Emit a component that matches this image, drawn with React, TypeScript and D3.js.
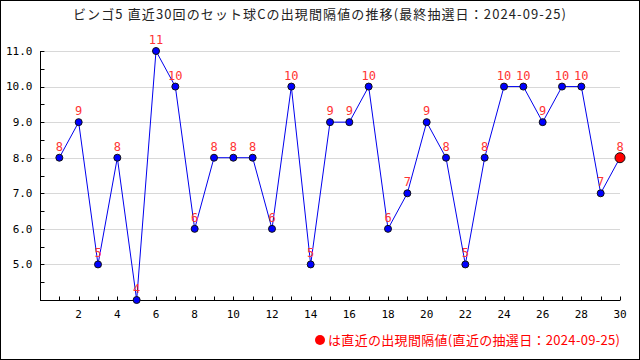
import * as d3 from "d3";
import React, { useRef, useEffect } from "react";

const draws = d3.range(1, 31);
const intervals = [8, 9, 5, 8, 4, 11, 10, 6, 8, 8, 8, 6, 10, 5, 9, 9, 10, 6, 7, 9, 8, 5, 8, 10, 10, 9, 10, 10, 7, 8];
const yTicks = [5, 6, 7, 8, 9, 10, 11];
const xLabels = [2, 4, 6, 8, 10, 12, 14, 16, 18, 20, 22, 24, 26, 28, 30];

const title = "ビンゴ5 直近30回のセット球Cの出現間隔値の推移(最終抽選日：2024-09-25)";
const note = "は直近の出現間隔値(直近の抽選日：2024-09-25)";

const width = 640;
const height = 360;
const margin = { top: 51, right: 20, bottom: 60, left: 40 };
const font = "'DejaVu Sans Mono', 'Noto Sans CJK JP', monospace";
const jpFont = "'Noto Sans CJK JP', 'DejaVu Sans', sans-serif";

function Chart() {
  const ref = useRef(null);

  useEffect(() => {
    const svg = d3.select(ref.current);
    svg.selectAll("*").remove();

    const x = d3.scaleLinear().domain([0, 30]).range([margin.left, width - margin.right]);
    const y = d3.scaleLinear().domain([4, 11]).range([height - margin.bottom, margin.top]);

    svg
      .append("rect")
      .attr("x", 0.5)
      .attr("y", 0.5)
      .attr("width", width - 1)
      .attr("height", height - 1)
      .attr("fill", "white")
      .attr("stroke", "black");

    svg
      .append("text")
      .attr("x", 73)
      .attr("y", 19)
      .attr("textLength", 493)
      .attr("lengthAdjust", "spacing")
      .style("font-family", jpFont)
      .style("font-size", "13px")
      .attr("fill", "#222")
      .text(title);

    // grid
    svg
      .append("g")
      .selectAll("line")
      .data(yTicks)
      .join("line")
      .attr("x1", margin.left + 5)
      .attr("x2", width - margin.right)
      .attr("y1", (d) => Math.round(y(d)) + 0.5)
      .attr("y2", (d) => Math.round(y(d)) + 0.5)
      .attr("stroke", "#d8d8d8");

    // y axis
    const yAxis = svg.append("g").attr("transform", `translate(${margin.left + 0.5},0)`);
    yAxis
      .append("line")
      .attr("y1", y(11))
      .attr("y2", y(4))
      .attr("stroke", "black");
    yAxis
      .selectAll(".minor")
      .data(d3.range(4.5, 11.01, 0.5))
      .join("line")
      .attr("x2", 4)
      .attr("y1", (d) => Math.round(y(d)) + 0.5)
      .attr("y2", (d) => Math.round(y(d)) + 0.5)
      .attr("stroke", "black");
    yAxis
      .selectAll("text")
      .data(yTicks)
      .join("text")
      .attr("x", -8)
      .attr("y", (d) => y(d))
      .attr("dy", "0.35em")
      .attr("text-anchor", "end")
      .style("font-family", font)
      .style("font-size", "11px")
      .attr("fill", "black")
      .text((d) => d3.format(".1f")(d));

    // x axis
    const xAxis = svg.append("g").attr("transform", `translate(0,${height - margin.bottom + 0.5})`);
    xAxis
      .append("line")
      .attr("x1", margin.left)
      .attr("x2", width - margin.right)
      .attr("stroke", "black");
    xAxis
      .selectAll(".tick")
      .data(draws)
      .join("line")
      .attr("x1", (d) => Math.round(x(d)) + 0.5)
      .attr("x2", (d) => Math.round(x(d)) + 0.5)
      .attr("y2", -4)
      .attr("stroke", "black");
    xAxis
      .selectAll("text")
      .data(xLabels)
      .join("text")
      .attr("x", (d) => x(d))
      .attr("y", 17)
      .attr("text-anchor", "middle")
      .style("font-family", font)
      .style("font-size", "11px")
      .attr("fill", "black")
      .text((d) => d);

    const line = d3
      .line<number>()
      .x((d, i) => x(draws[i]))
      .y((d) => y(d));

    svg
      .append("path")
      .datum(intervals)
      .attr("fill", "none")
      .attr("stroke", "#0000ee")
      .attr("stroke-width", 1)
      .attr("d", line);

    const last = intervals.length - 1;
    svg
      .append("g")
      .selectAll("circle")
      .data(intervals)
      .join("circle")
      .attr("cx", (d, i) => x(draws[i]))
      .attr("cy", (d) => y(d))
      .attr("r", (d, i) => (i === last ? 5 : 3.5))
      .attr("fill", (d, i) => (i === last ? "#ff0000" : "#0000ff"))
      .attr("stroke", "#111")
      .attr("stroke-width", 1);

    svg
      .append("g")
      .selectAll("text")
      .data(intervals)
      .join("text")
      .attr("x", (d, i) => x(draws[i]))
      .attr("y", (d) => y(d) - 7)
      .attr("text-anchor", "middle")
      .style("font-family", font)
      .style("font-size", "12px")
      .attr("fill", "#ff3333")
      .text((d) => d);

    // note
    svg
      .append("circle")
      .attr("cx", 320)
      .attr("cy", 340)
      .attr("r", 5)
      .attr("fill", "#ff0000");
    svg
      .append("text")
      .attr("x", 328)
      .attr("y", 345)
      .attr("textLength", 292)
      .attr("lengthAdjust", "spacing")
      .style("font-family", jpFont)
      .style("font-size", "13px")
      .attr("fill", "#ff0000")
      .text(note);
  }, []);

  return (
    <svg
      ref={ref}
      width={width}
      height={height}
      style={{ display: "block", position: "absolute", left: 0, top: 0 }}
    ></svg>
  );
}

export default function App() {
  return <Chart />;
}
